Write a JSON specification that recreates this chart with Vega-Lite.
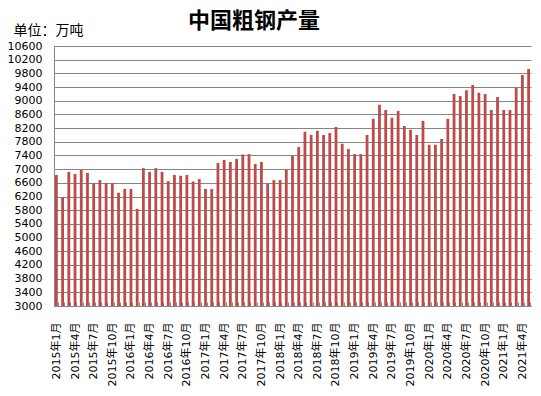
{
  "$schema": "https://vega.github.io/schema/vega-lite/v6.json",
  "width": 477,
  "height": 260,
  "autosize": {"type": "none"},
  "padding": {"left": 54, "top": 46, "right": 10, "bottom": 90},
  "background": "white",
  "title": {
    "text": "中国粗钢产量",
    "font": "Noto Sans CJK SC",
    "fontSize": 22,
    "fontWeight": "bold",
    "color": "#000000",
    "anchor": "start",
    "frame": "group",
    "dx": 134,
    "dy": 14,
    "offset": 4
  },
  "data": {
    "values": [
      {"month": "2015年1月", "value": 6830}, {"month": "2015年2月", "value": 6180}, {"month": "2015年3月", "value": 6920}, {"month": "2015年4月", "value": 6860}, {"month": "2015年5月", "value": 6980}, {"month": "2015年6月", "value": 6890}, {"month": "2015年7月", "value": 6580}, {"month": "2015年8月", "value": 6680}, {"month": "2015年9月", "value": 6590}, {"month": "2015年10月", "value": 6590}, {"month": "2015年11月", "value": 6310}, {"month": "2015年12月", "value": 6420},
      {"month": "2016年1月", "value": 6420}, {"month": "2016年2月", "value": 5840}, {"month": "2016年3月", "value": 7030}, {"month": "2016年4月", "value": 6920}, {"month": "2016年5月", "value": 7030}, {"month": "2016年6月", "value": 6920}, {"month": "2016年7月", "value": 6650}, {"month": "2016年8月", "value": 6830}, {"month": "2016年9月", "value": 6810}, {"month": "2016年10月", "value": 6830}, {"month": "2016年11月", "value": 6640}, {"month": "2016年12月", "value": 6710},
      {"month": "2017年1月", "value": 6420}, {"month": "2017年2月", "value": 6420}, {"month": "2017年3月", "value": 7180}, {"month": "2017年4月", "value": 7270}, {"month": "2017年5月", "value": 7210}, {"month": "2017年6月", "value": 7300}, {"month": "2017年7月", "value": 7430}, {"month": "2017年8月", "value": 7440}, {"month": "2017年9月", "value": 7150}, {"month": "2017年10月", "value": 7210}, {"month": "2017年11月", "value": 6580}, {"month": "2017年12月", "value": 6680},
      {"month": "2018年1月", "value": 6680}, {"month": "2018年2月", "value": 6980}, {"month": "2018年3月", "value": 7390}, {"month": "2018年4月", "value": 7650}, {"month": "2018年5月", "value": 8090}, {"month": "2018年6月", "value": 8000}, {"month": "2018年7月", "value": 8120}, {"month": "2018年8月", "value": 8000}, {"month": "2018年9月", "value": 8060}, {"month": "2018年10月", "value": 8230}, {"month": "2018年11月", "value": 7740}, {"month": "2018年12月", "value": 7590},
      {"month": "2019年1月", "value": 7440}, {"month": "2019年2月", "value": 7440}, {"month": "2019年3月", "value": 8000}, {"month": "2019年4月", "value": 8470}, {"month": "2019年5月", "value": 8880}, {"month": "2019年6月", "value": 8730}, {"month": "2019年7月", "value": 8500}, {"month": "2019年8月", "value": 8700}, {"month": "2019年9月", "value": 8260}, {"month": "2019年10月", "value": 8150}, {"month": "2019年11月", "value": 8000}, {"month": "2019年12月", "value": 8410},
      {"month": "2020年1月", "value": 7710}, {"month": "2020年2月", "value": 7710}, {"month": "2020年3月", "value": 7880}, {"month": "2020年4月", "value": 8470}, {"month": "2020年5月", "value": 9200}, {"month": "2020年6月", "value": 9140}, {"month": "2020年7月", "value": 9310}, {"month": "2020年8月", "value": 9460}, {"month": "2020年9月", "value": 9230}, {"month": "2020年10月", "value": 9200}, {"month": "2020年11月", "value": 8730}, {"month": "2020年12月", "value": 9110},
      {"month": "2021年1月", "value": 8730}, {"month": "2021年2月", "value": 8730}, {"month": "2021年3月", "value": 9380}, {"month": "2021年4月", "value": 9750}, {"month": "2021年5月", "value": 9930}
    ]
  },
  "mark": {"type": "bar", "color": "#BE4B48", "clip": true},
  "encoding": {
    "x": {
      "field": "month",
      "type": "ordinal",
      "sort": null,
      "scale": {"paddingInner": 0.55, "paddingOuter": 0.16},
      "axis": {
        "title": null,
        "labelAngle": -90,
        "labelFont": "DejaVu Sans, Noto Sans CJK SC",
        "labelFontSize": 11,
        "labelColor": "#000000",
        "labelOverlap": false,
        "labelExpr": "indexof(['1月','4月','7月','10月'], split(datum.label, '年')[1]) >= 0 ? datum.label : ''",
        "labelPadding": 20,
        "domainColor": "#868686",
        "tickColor": "#868686",
        "tickSize": -4,
        "tickBand": "extent"
      }
    },
    "y": {
      "field": "value",
      "type": "quantitative",
      "scale": {"domain": [3000, 10600], "nice": false, "zero": false},
      "axis": {
        "values": [3000, 3400, 3800, 4200, 4600, 5000, 5400, 5800, 6200, 6600, 7000, 7400, 7800, 8200, 8600, 9000, 9400, 9800, 10200, 10600],
        "format": "d",
        "grid": true,
        "gridColor": "#868686",
        "gridOpacity": 1,
        "domainColor": "#868686",
        "ticks": false,
        "labelPadding": 12,
        "labelFont": "DejaVu Sans",
        "labelFontSize": 11,
        "labelColor": "#000000",
        "title": "单位：万吨",
        "titleFont": "Noto Sans CJK SC",
        "titleFontSize": 14,
        "titleFontWeight": "normal",
        "titleColor": "#000000",
        "titleAngle": 0,
        "titleAlign": "left",
        "titleBaseline": "alphabetic",
        "titleX": -41,
        "titleY": -12
      }
    }
  },
  "config": {"view": {"stroke": null}}
}
